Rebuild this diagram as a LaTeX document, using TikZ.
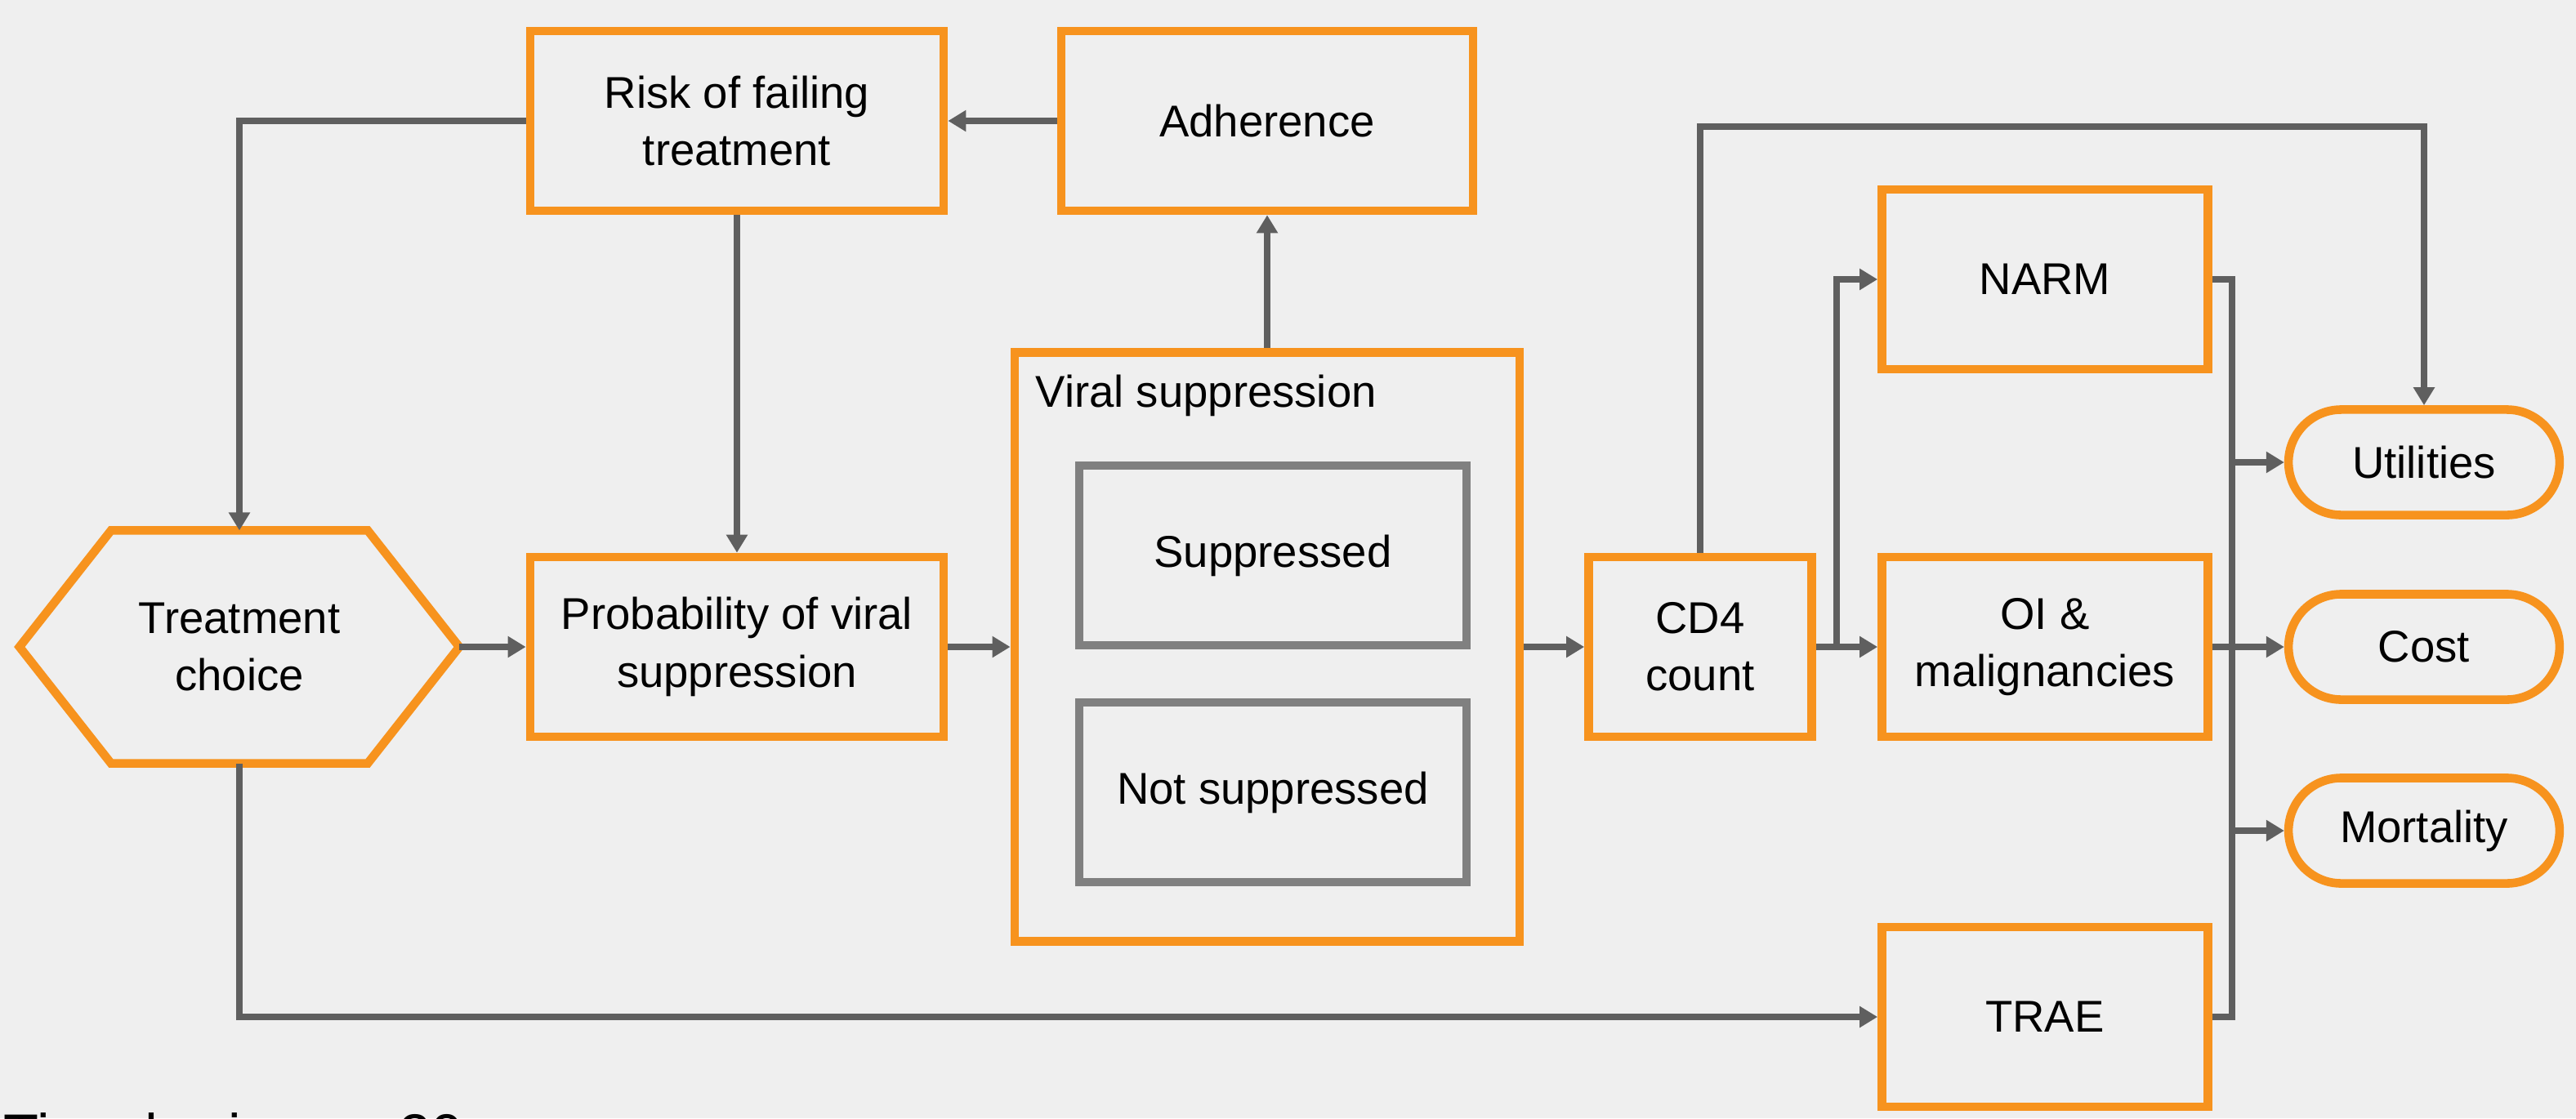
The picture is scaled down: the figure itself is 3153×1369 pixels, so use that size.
\documentclass[tikz,border=0pt]{standalone}
\usepackage{fontspec}
\setmainfont{Liberation Sans}
\usetikzlibrary{arrows.meta,shapes.misc}
\definecolor{boxorange}{HTML}{F7931E}
\definecolor{linegray}{HTML}{5F5F5F}
\definecolor{innergray}{HTML}{808080}
\definecolor{bggray}{HTML}{EFEFEF}
\tikzset{
  txt/.style={font=\fontsize{15.5}{20}\selectfont, align=center},
  orbox/.style={txt, draw=boxorange, line width=3pt, minimum height=2.2cm},
  inbox/.style={txt, draw=innergray, line width=3pt, minimum width=4.74cm, minimum height=2.2cm},
  outcome/.style={txt, rounded rectangle, draw=boxorange, line width=3pt, minimum width=3.55cm, minimum height=1.29cm},
  wire/.style={draw=linegray, line width=2.2pt},
  arr/.style={wire, -{Triangle[length=0.22cm,width=0.25cm]}},
}
\begin{document}
\begin{tikzpicture}[x=0.01cm, y=-0.01cm]
\clip (0,0) rectangle (3153,1369);
\fill[bggray] (0,0) rectangle (3153,1369);
\node[orbox, minimum width=5.06cm] (risk) at (902,148) {Risk of failing\\treatment};
\node[orbox, minimum width=5.04cm] (adh) at (1551,148) {Adherence};
\node[txt, minimum width=5.38cm, minimum height=2.85cm, outer sep=0pt] (tc) at (293,792) {Treatment\\choice};
\draw[boxorange, line width=3pt] (tc.west) -- ([xshift=1.12cm]tc.north west) -- ([xshift=-1.12cm]tc.north east) -- (tc.east) -- ([xshift=-1.12cm]tc.south east) -- ([xshift=1.12cm]tc.south west) -- cycle;
\node[orbox, minimum width=5.06cm] (prob) at (902,792) {Probability of viral\\suppression};
\node[orbox, minimum width=6.18cm, minimum height=7.21cm] (viral) at (1551,792) {};
\node[txt, anchor=west, inner sep=0pt] (vlabel) at (1267,484) {Viral suppression};
\node[inbox] (supp) at (1558,680) {Suppressed};
\node[inbox] (nsupp) at (1558,970) {Not suppressed};
\node[orbox, minimum width=2.73cm] (cd4) at (2081,792) {CD4\\count};
\node[orbox, minimum width=3.99cm] (narm) at (2503,342) {NARM};
\node[orbox, minimum width=3.99cm] (oi) at (2503,792) {OI \&\\malignancies};
\node[orbox, minimum width=3.99cm] (trae) at (2503,1245) {TRAE};
\node[outcome] (util) at (2967,566) {Utilities};
\node[outcome] (cost) at (2967,792) {Cost};
\node[outcome] (mort) at (2967,1017) {Mortality};
\node[anchor=base west, inner sep=0pt, font=\fontsize{20}{24}\selectfont] (horizon) at (4,1413) {Time horizon = 20};
\coordinate (split) at (2248,792);
\coordinate (bus) at (2732,792);
\coordinate (topy) at (2081,155);
\draw[arr] (adh.west) -- (risk.east);
\draw[arr] (risk.west) -| (tc.north);
\draw[arr] (risk.south) -- (prob.north);
\draw[arr] (viral.north) -- (adh.south);
\draw[arr] (tc.east) -- (prob.west);
\draw[arr] (prob.east) -- (viral.west);
\draw[arr] (viral.east) -- (cd4.west);
\draw[arr] (cd4.east) -- (oi.west);
\draw[arr] (split) |- (narm.west);
\draw[arr] (cd4.north) -- (topy) -| (util.north);
\draw[arr] (tc.south) |- (trae.west);
\draw[wire] (narm.east) -| (bus |- trae.east) -- (trae.east);
\draw[arr] (bus |- util.west) -- (util.west);
\draw[arr] (oi.east) -- (cost.west);
\draw[arr] (bus |- mort.west) -- (mort.west);
\end{tikzpicture}
\end{document}
